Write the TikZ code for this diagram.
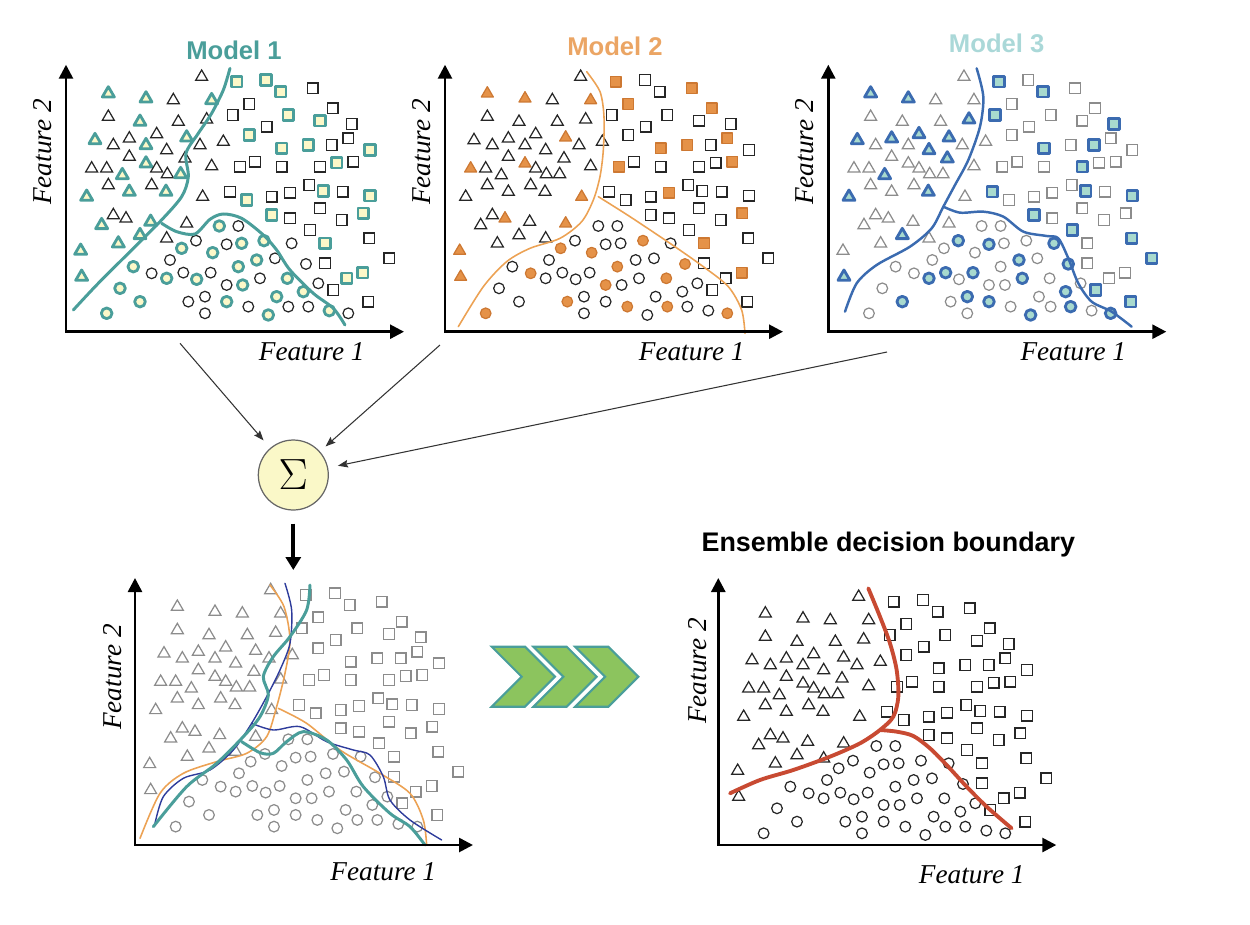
\documentclass[tikz,border=0pt]{standalone}
\usepackage{fontspec}
\setmainfont{Liberation Serif}
\setsansfont{Liberation Sans}
\usetikzlibrary{arrows.meta}

\definecolor{mteal}{RGB}{74,158,154}
\definecolor{mpale}{RGB}{252,248,200}
\definecolor{morange}{RGB}{236,162,84}
\definecolor{morangefill}{RGB}{229,146,72}
\definecolor{morangedark}{RGB}{205,120,50}
\definecolor{mtitletwo}{RGB}{235,165,100}
\definecolor{mtitlethree}{RGB}{170,216,216}
\definecolor{mblue}{RGB}{59,107,176}
\definecolor{mbluefill}{RGB}{168,218,206}
\definecolor{mnavy}{RGB}{46,60,155}
\definecolor{mred}{RGB}{200,74,50}
\definecolor{mgreen}{RGB}{140,196,94}
\definecolor{msum}{RGB}{250,248,200}

% x/y/model1/model2/model3 (1 = highlighted by that model)
\def\trilist{425/140/0/0/0, 145/190/1/1/1, 258/205/1/1/1, 340/210/0/0/0, 455/210/1/1/0,
  145/260/0/0/0, 240/275/1/0/0, 355/275/0/0/0, 440/268/0/0/1, 105/330/1/0/1,
  160/345/0/0/0, 208/325/0/0/1, 290/312/0/0/1, 258/345/1/0/0, 380/322/1/1/1,
  420/345/0/0/0, 490/335/0/0/0, 320/360/0/0/1, 375/385/0/0/1, 208/380/0/0/0,
  258/400/1/1/0, 95/415/0/1/0, 140/415/0/0/0, 187/435/1/0/1, 290/415/0/0/0,
  322/432/0/0/0, 362/432/1/0/0, 455/408/0/0/0, 145/465/0/0/0, 208/485/1/0/0,
  275/465/0/0/0, 318/485/1/0/1, 80/500/1/0/1, 428/500/0/1/0, 160/555/0/0/0,
  198/565/0/1/0, 125/585/1/0/0, 272/575/1/0/0, 380/580/0/1/0, 175/640/1/0/0,
  240/615/1/0/1, 320/625/0/0/0, 62/662/1/1/0, 65/740/1/1/1}
\def\sqlist{530/155/1/1/1, 618/150/1/0/0, 662/185/1/0/1, 758/175/0/1/0, 568/222/0/1/0,
  518/255/0/0/1, 685/255/1/0/0, 818/235/0/1/0, 780/272/1/0/0, 875/282/0/0/1,
  620/290/0/0/0, 568/315/1/0/0, 665/355/1/1/1, 745/345/1/1/0, 815/345/0/0/1,
  865/325/0/1/0, 930/360/1/0/0, 540/410/0/1/0, 585/395/0/0/0, 665/410/0/0/0,
  780/410/0/0/1, 830/398/1/0/0, 880/395/0/1/0, 510/485/0/0/1, 560/510/1/0/0,
  635/500/0/0/0, 690/488/0/1/0, 748/465/0/0/0, 790/483/1/0/1, 848/485/0/0/0,
  930/497/1/0/1, 780/535/0/0/0, 635/555/1/0/1, 690/565/0/0/0, 845/570/0/0/0,
  910/550/1/1/0, 750/600/0/0/1, 795/640/1/1/0, 928/625/0/0/1, 988/685/0/0/1,
  795/700/0/0/0, 860/745/1/0/0, 908/728/1/1/0, 820/780/0/0/1, 925/815/0/0/1}
\def\cirlist{478/588/1/0/0, 535/588/0/0/0, 408/632/0/0/1, 365/655/1/1/0, 458/668/1/1/0,
  500/643/0/0/1, 545/640/1/0/0, 612/632/1/1/0, 695/640/0/0/1, 330/690/0/0/0,
  220/710/1/0/0, 275/730/0/1/0, 320/745/1/0/1, 370/728/0/0/1, 410/748/1/0/0,
  452/728/0/0/1, 535/710/1/1/0, 590/690/1/0/1, 645/685/0/0/0, 738/702/0/1/1,
  180/775/1/0/0, 240/815/1/0/1, 140/850/1/1/0, 385/815/0/1/0, 435/800/0/0/1,
  500/765/0/1/0, 548/765/1/0/0, 600/745/0/0/1, 682/745/1/1/0, 730/785/1/0/1,
  775/760/0/0/0, 435/850/0/0/0, 500/815/1/0/1, 565/830/0/1/0, 650/800/1/0/0,
  625/855/1/0/1, 685/830/0/1/0, 745/830/0/0/1, 808/842/1/0/0, 865/850/0/1/1}

\newcommand{\pickstyle}[1]{%
  \ifcase#1 \def\hl{0}\or\let\hl\ha\or\let\hl\hb\or\let\hl\hc\fi
  \ifnum\hl=1 \tikzset{ptcur/.style={pthl}}\else\tikzset{ptcur/.style={ptbase}}\fi}
\newcommand{\scatter}[1]{%
  \foreach \x/\y/\ha/\hb/\hc in \trilist {\pickstyle{#1}
    \draw[ptcur] (\x,\y) ++(-18,11) -- ++(36,0) -- ++(-18,-31) -- cycle;}
  \foreach \x/\y/\ha/\hb/\hc in \sqlist {\pickstyle{#1}
    \draw[ptcur] (\x,\y) ++(-16,-16) rectangle ++(32,32);}
  \foreach \x/\y/\ha/\hb/\hc in \cirlist {\pickstyle{#1}
    \draw[ptcur] (\x,\y) circle[radius=16];}}
\newcommand{\axes}[2]{%
  \draw[axis] (#1,#2) ++(0,-267) -- (#1,#2) -- ++(338,0);}

\begin{document}
\begin{tikzpicture}[x=0.02cm, y=-0.02cm,
    axis/.style={line width=1.5pt, {Triangle[length=0.28cm,width=0.28cm]}-{Triangle[length=0.28cm,width=0.28cm]}},
    feat/.style={font=\fontsize{15.5}{18}\selectfont\itshape, inner sep=0},
    ttl/.style={font=\sffamily\bfseries\fontsize{14.6}{17}\selectfont, inner sep=0},
    blackpt/.style={ptbase/.style={draw=black!85, line width=0.7pt}},
    graypt/.style={ptbase/.style={draw=black!45, line width=0.7pt}},
    feed/.style={draw=black!80, line width=0.6pt, shorten >=0.2cm, -{Stealth[length=0.2cm,width=0.15cm,inset=0.03cm]}},
    chevron/.style={draw=mteal, fill=mgreen, line width=1.2pt},
    bnd/.style={line cap=round, line join=round}]
  \useasboundingbox (0,0) rectangle (1250,924);

  % model 1
  \begin{scope}[shift={(60,30)}, scale=0.3333, blackpt,
      pthl/.style={draw=mteal, fill=mpale, line width=1.6pt, line join=round}]
    \scatter{1}
    \draw[bnd, mteal, line width=1.7pt] plot[smooth] coordinates {(510,115) (490,180) (455,250) (415,310) (378,370) (385,440) (365,500) (300,575) (200,675) (110,765) (40,840)};
    \draw[bnd, mteal, line width=1.7pt] plot[smooth] coordinates {(305,580) (350,605) (405,612) (450,568) (490,552) (545,565) (610,615) (650,660) (690,720) (760,790) (820,835) (855,885)};
  \end{scope}
  \axes{66}{331.7}
  \node[ttl, mteal] (title1) at (234,50) {Model 1};
  \node[feat] (xlab1) at (311.7,352) {Feature 1};
  \node[feat, rotate=90] (ylab1) at (43,152) {Feature 2};

  % model 2
  \begin{scope}[shift={(439,30)}, scale=0.3333, blackpt,
      pthl/.style={draw=morangedark, fill=morangefill, line width=0.7pt, line join=round}]
    \scatter{2}
  \end{scope}
  \begin{scope}[shift={(430,30)}, scale=0.3333]
    \draw[bnd, morange, line width=0.9pt] plot[smooth] coordinates {(470,125) (510,185) (522,260) (520,360) (510,440) (490,510) (455,575) (390,625) (300,655) (230,695) (160,770) (85,890)};
    \draw[bnd, morange, line width=0.9pt] plot[smooth] coordinates {(505,500) (600,560) (720,640) (820,710) (895,770) (935,840) (945,910)};
  \end{scope}
  \axes{445}{331.7}
  \node[ttl, mtitletwo] (title2) at (615,46.7) {Model 2};
  \node[feat] (xlab2) at (691.7,351.7) {Feature 1};
  \node[feat, rotate=90] (ylab2) at (422,152) {Feature 2};

  % model 3
  \begin{scope}[shift={(822.3,30)}, scale=0.3333, graypt,
      pthl/.style={draw=mblue, fill=mbluefill, line width=1.6pt, line join=round}]
    \scatter{3}
  \end{scope}
  \begin{scope}[shift={(810,30)}, scale=0.3333]
    \draw[bnd, mblue, line width=1.4pt] plot[smooth] coordinates {(500,115) (520,200) (510,290) (475,390) (435,465) (400,530) (365,595) (300,650) (200,705) (140,760) (105,845)};
    \draw[bnd, mblue, line width=1.4pt] plot[smooth] coordinates {(400,530) (450,548) (520,545) (580,560) (640,605) (710,618) (745,625) (775,685) (805,760) (845,815) (905,845) (965,890)};
  \end{scope}
  \axes{828.3}{331.7}
  \node[ttl, mtitlethree] (title3) at (996.7,43.3) {Model 3};
  \node[feat] (xlab3) at (1073.3,351.7) {Feature 1};
  \node[feat, rotate=90] (ylab3) at (805,152) {Feature 2};

  % combining
  \node[circle, draw=black!60, fill=msum, line width=0.7pt, minimum size=1.4cm, inner sep=0] (sum) at (293.3,475) {\fontsize{26}{26}\selectfont$\Sigma$};
  \coordinate (from1) at (180,343.3);
  \coordinate (from2) at (440,345);
  \coordinate (from3) at (887,352);
  \coordinate (down) at (293.3,570);
  \draw[feed] (from1) -- (sum);
  \draw[feed, shorten >=0.15cm] (from2) -- (sum);
  \draw[feed] (from3) -- (sum);
  \draw[line width=2.3pt, shorten <=0.26cm, -{Triangle[length=0.26cm,width=0.3cm]}] (sum) -- (down);

  % all boundaries together
  \begin{scope}[shift={(129,543.3)}, scale=0.3333, graypt]
    \scatter{0}
  \end{scope}
  \begin{scope}[shift={(100,560)}, scale=0.3333]
    \draw[bnd, morange, line width=0.9pt] plot[smooth] coordinates {(510,75) (552,140) (570,240) (555,340) (530,440) (500,530) (440,580) (350,605) (250,640) (180,700) (120,835)};
    \draw[bnd, morange, line width=0.9pt] plot[smooth] coordinates {(535,445) (620,490) (720,570) (840,640) (930,700) (970,780) (980,855)};
    \draw[bnd, mnavy, line width=0.8pt] plot[smooth] coordinates {(555,70) (575,150) (570,250) (540,330) (500,410) (455,490) (400,570) (330,630) (250,655) (190,710) (165,790)};
    \draw[bnd, mnavy, line width=0.8pt] plot[smooth] coordinates {(455,490) (520,510) (600,500) (680,545) (760,570) (810,585) (850,650) (870,720) (930,780) (1025,840)};
    \draw[bnd, mteal, line width=1.7pt] plot[smooth] coordinates {(630,75) (620,150) (570,230) (520,290) (490,350) (505,405) (480,470) (430,530) (350,610) (260,680) (160,800)};
    \draw[bnd, mteal, line width=1.7pt] plot[smooth] coordinates {(425,545) (480,578) (520,580) (560,545) (610,515) (680,540) (740,600) (790,680) (870,760) (930,800) (975,855)};
  \end{scope}
  \axes{135}{845}
  \node[feat] (xlab4) at (383.3,871.7) {Feature 1};
  \node[feat, rotate=90] (ylab4) at (113,677) {Feature 2};

  % chevrons
  \foreach \i in {0,1,2}
    \draw[chevron] ({491.7+41.7*\i},646.7) -- ++(33.3,0) -- ++(30,30) -- ++(-30,30) -- ++(-33.3,0) -- ++(30,-30) -- cycle;

  % ensemble
  \begin{scope}[shift={(717,550)}, scale=0.3333, blackpt]
    \scatter{0}
  \end{scope}
  \begin{scope}[shift={(680,520)}, scale=0.3333]
    \draw[bnd, mred, line width=2.2pt] plot[smooth] coordinates {(565,205) (600,290) (630,370) (650,450) (655,530) (640,590) (600,630) (540,670) (450,710) (340,750) (240,780) (150,820)};
    \draw[bnd, mred, line width=2.2pt] plot[smooth] coordinates {(600,630) (650,635) (700,648) (750,685) (800,735) (860,800) (920,860) (995,925)};
  \end{scope}
  \axes{718.3}{845}
  \node[ttl, font=\sffamily\bfseries\fontsize{15.3}{18}\selectfont] (title5) at (888.3,545) {Ensemble decision boundary};
  \node[feat] (xlab5) at (971.7,875) {Feature 1};
  \node[feat, rotate=90] (ylab5) at (698,671) {Feature 2};
\end{tikzpicture}
\end{document}
